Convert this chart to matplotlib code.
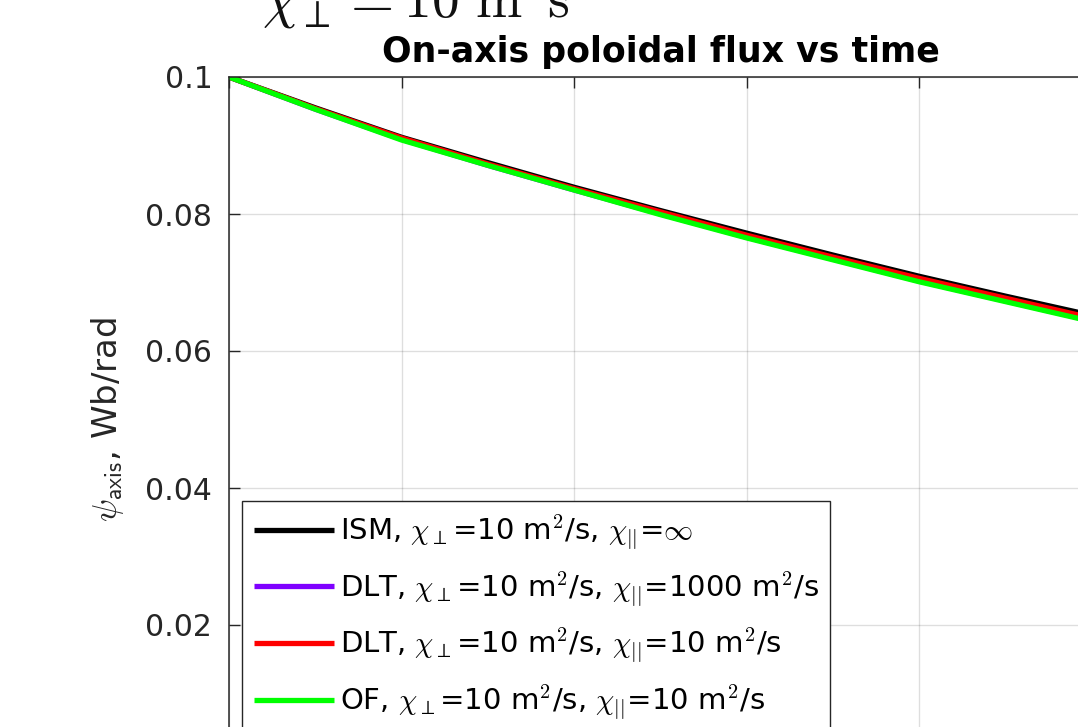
"""
On-axis poloidal flux vs time, four transport models
"""

import numpy as np
import matplotlib
matplotlib.use('Agg')
import matplotlib.pyplot as plt

plt.rcParams['font.family'] = ['DejaVu Sans']
plt.rcParams['mathtext.fontset'] = 'cm'

# time axis (grid units) and on-axis flux, Wb/rad
t = [0.0, 0.5, 1.0, 1.5, 2.0, 2.5, 3.0, 3.5, 4.0, 4.5, 5.0]
psi_ism = [0.1000, 0.0955, 0.0912, 0.0875, 0.0839, 0.0805, 0.0772, 0.0740, 0.0709, 0.0680, 0.0652]
psi_dlt_1000 = [0.1000, 0.0953, 0.0909, 0.0871, 0.0835, 0.0800, 0.0766, 0.0734, 0.0702, 0.0673, 0.0644]
psi_dlt_10 = [0.1000, 0.0954, 0.0911, 0.0873, 0.0837, 0.0803, 0.0769, 0.0737, 0.0706, 0.0677, 0.0648]
psi_of = [0.1000, 0.0953, 0.0908, 0.0871, 0.0835, 0.0799, 0.0765, 0.0733, 0.0701, 0.0672, 0.0643]

labels = [
    r'ISM, $\chi_\perp$=10 m$^\mathsf{2}$/s, $\chi_{||}$=$\infty$',
    r'DLT, $\chi_\perp$=10 m$^\mathsf{2}$/s, $\chi_{||}$=1000 m$^\mathsf{2}$/s',
    r'DLT, $\chi_\perp$=10 m$^\mathsf{2}$/s, $\chi_{||}$=10 m$^\mathsf{2}$/s',
    r'OF, $\chi_\perp$=10 m$^\mathsf{2}$/s, $\chi_{||}$=10 m$^\mathsf{2}$/s',
]
colors = ['#000000', '#7f00ff', '#ff0000', '#00ff00']

y_ticks = [0, 0.02, 0.04, 0.06, 0.08, 0.1]
y_ticklabels = ['0', '0.02', '0.04', '0.06', '0.08', '0.1']

W, H = 1078, 727
fig = plt.figure(figsize=(W / 100, H / 100), dpi=100)
# axes box runs past the right and bottom edge of the canvas
left, top, right, bottom = 229, 77, 1092, 762
ax = fig.add_axes([left / W, (H - bottom) / H, (right - left) / W, (bottom - top) / H])

series = [psi_ism, psi_dlt_1000, psi_dlt_10, psi_of]
for y, c, lab in zip(series, colors, labels):
    ax.plot(t, y, color=c, lw=3.8, label=lab, solid_capstyle='butt')

ax.set_xlim(0, 5)
ax.set_ylim(0, 0.1)
ax.set_xticks(np.arange(0, 6, 1))
ax.set_yticks(y_ticks)
ax.set_yticklabels(y_ticklabels)

axis_color = '#262626'
ax.grid(True, color='#000000', alpha=0.13, lw=1.0)
ax.tick_params(axis='both', direction='in', length=8, width=1.0, color=axis_color,
               labelcolor=axis_color, labelsize=21.5, top=True, right=True, pad=12)
ax.tick_params(axis='x', labelbottom=False)
for s in ax.spines.values():
    s.set_color(axis_color)
    s.set_linewidth(1.1)

ax.set_title('On-axis poloidal flux vs time', fontsize=25, fontweight='bold', pad=11)
ax.set_ylabel(r'$\psi_{\mathsf{axis}}$, Wb/rad', fontsize=24.5, color=axis_color, labelpad=14)

leg = ax.legend(loc='upper left', bbox_to_anchor=(0.015, 0.381), borderaxespad=0,
                fontsize=21, handlelength=2.75, handletextpad=0.2, labelspacing=0.6,
                borderpad=0.4, fancybox=False, framealpha=1, edgecolor=axis_color)
leg.get_frame().set_linewidth(1.0)

# heading above the panel, partly off the canvas
fig.text(262 / W, 1 - 17 / H, r'$\chi_\perp = 10\ \mathrm{m^2 s^{-1}}$', fontsize=40,
         ha='left', va='baseline', color='#111111')

fig.savefig('out.png', dpi=100)
